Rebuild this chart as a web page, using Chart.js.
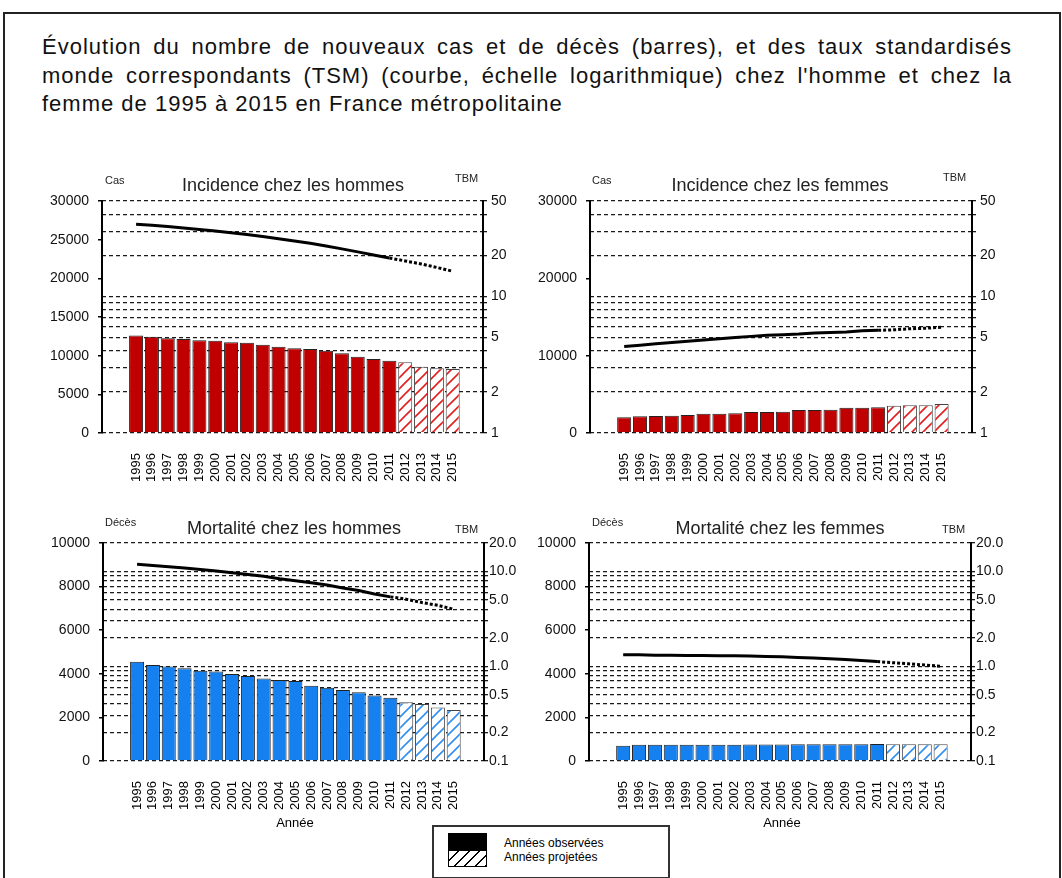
<!DOCTYPE html>
<html><head><meta charset="utf-8">
<script src="https://cdn.jsdelivr.net/npm/chart.js@4.4.1/dist/chart.umd.min.js"></script>
<style>
html,body{margin:0;padding:0;background:#fff;}
body{width:1062px;height:878px;position:relative;overflow:hidden;font-family:"Liberation Sans",Arial,sans-serif;color:#000;}
#frame{position:absolute;left:3px;top:12px;width:1054px;height:900px;border:2px solid #222;}
#title{position:absolute;left:42px;top:33px;width:970px;font-size:22px;line-height:28.5px;color:#111;letter-spacing:1px;}
#title .j{text-align:justify;text-align-last:justify;}
.panel{position:absolute;}
.lbl{position:absolute;white-space:nowrap;line-height:16px;}
.small{font-size:11px;color:#222;}
.ptitle{font-size:18px;line-height:20px;color:#222;transform:translateX(-50%);}
.annee{font-size:13px;transform:translateX(-50%);}
#legend{position:absolute;left:432px;top:825px;width:234px;height:50px;border:2px solid #333;background:#fff;}
#swObs{position:absolute;left:14px;top:6px;width:39px;height:17px;background:#000;}
#swProj{position:absolute;left:14px;top:23px;width:37px;height:15px;border:1px solid #000;
 background:repeating-linear-gradient(135deg,#fff 0 6px,#000 6px 7.5px);}
#legText{position:absolute;left:70px;top:9px;font-size:12px;line-height:14px;}
</style></head>
<body>
<div id="frame"></div>
<div id="title"><div class="j">Évolution du nombre de nouveaux cas et de décès (barres), et des taux standardisés</div><div class="j">monde correspondants (TSM) (courbe, échelle logarithmique) chez l'homme et chez la</div><div>femme de 1995 à 2015 en France métropolitaine</div></div>

<canvas id="c1" class="panel" width="480" height="335" style="left:40px;top:165px;width:480px;height:335px"></canvas>
<canvas id="c2" class="panel" width="480" height="335" style="left:530px;top:165px;width:480px;height:335px"></canvas>
<canvas id="c3" class="panel" width="480" height="330" style="left:40px;top:505px;width:480px;height:330px"></canvas>
<canvas id="c4" class="panel" width="480" height="330" style="left:530px;top:505px;width:480px;height:330px"></canvas>

<div class="lbl small" style="left:105px;top:172px">Cas</div>
<div class="lbl small" style="left:455px;top:170px">TBM</div>
<div class="lbl ptitle" style="left:293px;top:175px">Incidence chez les hommes</div>
<div class="lbl small" style="left:592px;top:172px">Cas</div>
<div class="lbl small" style="left:943px;top:169px">TBM</div>
<div class="lbl ptitle" style="left:780px;top:175px">Incidence chez les femmes</div>
<div class="lbl small" style="left:105px;top:514px">Décès</div>
<div class="lbl small" style="left:455px;top:521px">TBM</div>
<div class="lbl ptitle" style="left:294px;top:518px">Mortalité chez les hommes</div>
<div class="lbl small" style="left:592px;top:514px">Décès</div>
<div class="lbl small" style="left:942px;top:521px">TBM</div>
<div class="lbl ptitle" style="left:780px;top:518px">Mortalité chez les femmes</div>
<div class="lbl annee" style="left:295px;top:815px">Année</div>
<div class="lbl annee" style="left:782px;top:815px">Année</div>

<div id="legend"><div id="swObs"></div><div id="swProj"></div>
<div id="legText">Années observées<br>Années projetées</div></div>

<script>
// ---- data ----
const years = [1995,1996,1997,1998,1999,2000,2001,2002,2003,2004,2005,2006,2007,2008,2009,2010,2011,2012,2013,2014,2015];
const firstProjectedYear = 2012;

const incHommesCas = [12600,12450,12240,12150,11980,11940,11720,11680,11420,11160,10950,10860,10640,10300,9870,9570,9350,9140,8570,8360,8280];
const incHommesTsm = [33.8,33.2,32.5,31.7,30.9,30.1,29.3,28.4,27.5,26.5,25.5,24.5,23.4,22.3,21.2,20.1,19.1,18.2,17.3,16.3,15.3];

const incFemmesCas = [2030,2180,2200,2230,2330,2500,2480,2550,2700,2700,2760,2960,2960,3000,3250,3270,3320,3520,3580,3600,3750];
const incFemmesTsm = [4.3,4.4,4.5,4.6,4.7,4.8,4.9,5.0,5.1,5.2,5.25,5.3,5.4,5.45,5.5,5.6,5.65,5.7,5.8,5.85,5.95];

const mortHommesDeces = [4550,4400,4330,4250,4140,4100,3990,3900,3790,3720,3670,3450,3360,3260,3150,3000,2900,2690,2610,2450,2340];
const mortHommesTsm = [11.9,11.6,11.2,10.9,10.5,10.1,9.7,9.3,8.9,8.4,8.0,7.6,7.2,6.7,6.3,5.8,5.4,5.1,4.7,4.4,4.0];

const mortFemmesDeces = [700,740,750,750,750,750,750,750,760,760,760,770,770,770,770,770,780,770,770,770,770];
const mortFemmesTsm = [1.32,1.32,1.31,1.31,1.30,1.30,1.29,1.29,1.28,1.27,1.26,1.24,1.22,1.20,1.18,1.15,1.12,1.09,1.06,1.03,1.00];

const tsmGridInc = [1,2,3,4,5,6,7,8,9,10,20,30,40,50];
const tsmLabelsInc = [1,2,5,10,20,50];
const tsmGridMort = [0.1,0.2,0.3,0.4,0.5,0.6,0.7,0.8,0.9,1,2,3,4,5,6,7,8,9,10,20];
const tsmLabelsMort = [0.1,0.2,0.5,1,2,5,10,20];

// ---- drawing ----
Chart.defaults.font.family = '"Liberation Sans", Arial, sans-serif';
Chart.defaults.color = '#000';

function hatch(color){
  const c = document.createElement('canvas'); c.width = 11; c.height = 11;
  const g = c.getContext('2d');
  g.fillStyle = '#fff'; g.fillRect(0,0,11,11);
  g.strokeStyle = color; g.lineWidth = 1.6;
  g.beginPath();
  g.moveTo(-2,13); g.lineTo(13,-2);
  g.moveTo(-2,2); g.lineTo(2,-2);
  g.moveTo(9,13); g.lineTo(13,9);
  g.stroke();
  return g.createPattern(c,'repeat');
}

const projIdx = years.indexOf(firstProjectedYear);

function panel(id, o){
  const pat = hatch(o.hatchColor);
  new Chart(document.getElementById(id), {
    data: {
      datasets: [
        {
          type: 'line', yAxisID: 'y1', order: 0,
          data: years.map((y,i)=>({x:y, y:o.tsm[i]})),
          borderColor: '#000', borderWidth: 3, pointRadius: 0, tension: 0,
          segment: { borderDash: c => c.p0DataIndex >= projIdx-1 ? [3,2] : undefined }
        },
        {
          type: 'bar', yAxisID: 'y', order: 1,
          data: years.map((y,i)=>({x:y, y:o.bars[i]})),
          backgroundColor: c => c.dataIndex >= projIdx ? pat : o.color,
          borderColor: c => c.dataIndex >= projIdx ? '#444' : '#222',
          borderWidth: 1,
          categoryPercentage: 1, barPercentage: 0.885
        }
      ]
    },
    options: {
      responsive: false, animation: false,
      layout: { padding: { top: o.top, left: 0, right: 0, bottom: 0 } },
      plugins: { legend: { display: false }, tooltip: { enabled: false } },
      scales: {
        x: {
          type: 'linear', min: 1993.42, max: 2016.34,
          afterBuildTicks: s => { s.ticks = years.map(v=>({value:v})); },
          afterFit: s => { s.height = o.xH; },
          grid: { display: false }, border: { display: false },
          ticks: { autoSkip: false, minRotation: 90, maxRotation: 90, padding: 12,
                   font: { size: 13 }, callback: v => String(v) }
        },
        y: {
          type: 'linear', position: 'left', min: 0, max: o.barMax,
          afterFit: s => { s.width = o.leftW; },
          grid: { drawOnChartArea: false, drawTicks: true, tickLength: 4, color: '#000', lineWidth: 1.5 },
          border: { display: true, color: '#000', width: 2 },
          ticks: { stepSize: o.barStep, padding: 9, font: { size: 14 }, color: '#111', callback: v => String(v) }
        },
        y1: {
          type: 'logarithmic', position: 'right', min: o.tsmGrid[0], max: o.tsmGrid[o.tsmGrid.length-1],
          afterBuildTicks: s => { s.ticks = o.tsmGrid.map(v=>({value:v})); },
          afterFit: s => { s.width = o.rightW; },
          grid: { drawOnChartArea: true, drawTicks: true, tickLength: 4, color: '#1a1a1a', lineWidth: 1.3 },
          border: { display: true, color: '#000', width: 2, dash: [4,3] },
          ticks: { autoSkip: false, padding: o.rPad, font: { size: 14 }, color: '#111',
                   callback: v => o.tsmLabels.includes(v) ? o.fmt(v) : '' }
        }
      }
    }
  });
}

panel('c1', { bars: incHommesCas, tsm: incHommesTsm, color: '#C00000', hatchColor: '#E02020',
  barMax: 30000, barStep: 5000, tsmGrid: tsmGridInc, tsmLabels: tsmLabelsInc, fmt: v => String(v),
  top: 36, leftW: 62, rightW: 37, xH: 67, rPad: 4 });
panel('c2', { bars: incFemmesCas, tsm: incFemmesTsm, color: '#C00000', hatchColor: '#E02020',
  barMax: 30000, barStep: 10000, tsmGrid: tsmGridInc, tsmLabels: tsmLabelsInc, fmt: v => String(v),
  top: 36, leftW: 60, rightW: 38, xH: 67, rPad: 4 });
panel('c3', { bars: mortHommesDeces, tsm: mortHommesTsm, color: '#1580F0', hatchColor: '#3090F0',
  barMax: 10000, barStep: 2000, tsmGrid: tsmGridMort, tsmLabels: tsmLabelsMort, fmt: v => v.toFixed(1),
  top: 38, leftW: 63, rightW: 36, xH: 74, rPad: 1 });
panel('c4', { bars: mortFemmesDeces, tsm: mortFemmesTsm, color: '#1580F0', hatchColor: '#3090F0',
  barMax: 10000, barStep: 2000, tsmGrid: tsmGridMort, tsmLabels: tsmLabelsMort, fmt: v => v.toFixed(1),
  top: 38, leftW: 59, rightW: 39, xH: 74, rPad: 1 });
</script>
</body></html>
